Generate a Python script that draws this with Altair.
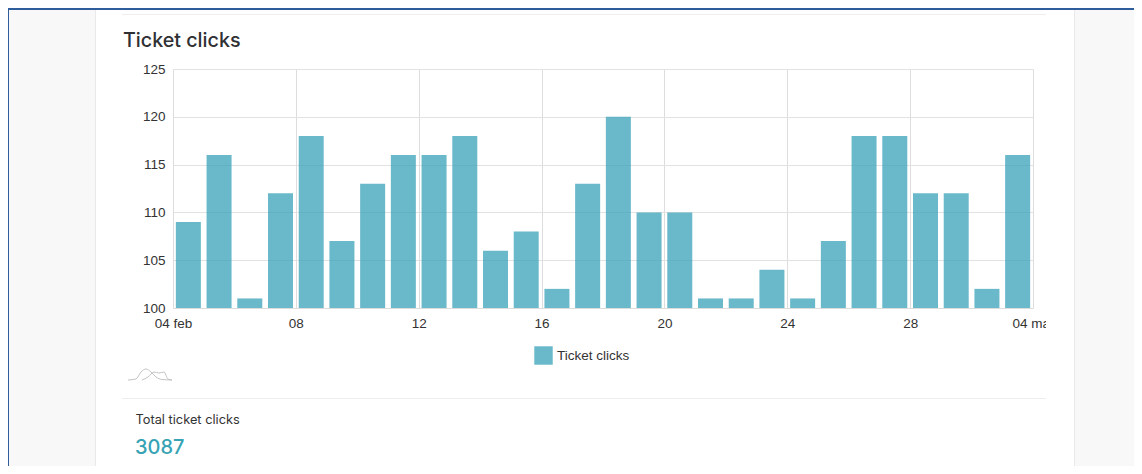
import altair as alt
import pandas as pd

days = pd.date_range("2023-02-04 12:00", periods=28, freq="D").strftime("%Y-%m-%dT%H:%M:%S").tolist()
clicks = [109, 116, 101, 112, 118, 107, 113, 116, 116, 118, 106, 108, 102, 113,
          120, 110, 110, 101, 101, 104, 101, 107, 118, 118, 112, 112, 102, 116]
series_name = "Ticket clicks"
tick_dates = ["2023-02-04", "2023-02-08", "2023-02-12", "2023-02-16",
              "2023-02-20", "2023-02-24", "2023-02-28", "2023-03-04"]
spark_a_x = [0, 8, 13, 18, 23, 28, 34, 44]
spark_a_y = [0, 1, 8, 11, 8, 3, 0.5, 0]
spark_b_x = [14, 20, 26, 31, 36, 40, 44]
spark_b_y = [0, 3, 8, 7, 8, 1, 0]

OX, OY = 173, 69  # page position of the plot's corner
W, H = 860, 239


def px(x):
    return alt.value(x - OX)


def py(y):
    return alt.value(y - OY)


def rect(x0, x1, y0, y1, color):
    return alt.Chart(pd.DataFrame({"a": [0]})).mark_rect(color=color).encode(
        x=px(x0), x2=px(x1), y=py(y0), y2=py(y1))


def label(text, x, y, size, color, weight=400):
    return alt.Chart(pd.DataFrame({"t": [text]})).mark_text(
        align="left", baseline="alphabetic", font="Inter", fontSize=size,
        fontWeight=weight, color=color).encode(x=px(x), y=py(y), text="t:N")


bars = alt.Chart(pd.DataFrame({"day": days, "clicks": clicks, "s": series_name})).mark_bar(
    size=25, opacity=0.75
).encode(
    x=alt.X("day:T", scale=alt.Scale(domain=[tick_dates[0] + "T00:00:00", tick_dates[-1] + "T00:00:00"], padding=0),
            axis=alt.Axis(values=[d + "T00:00:00" for d in tick_dates], title=None, ticks=False,
                          domainColor="#dddddd", gridColor="#dddddd", labelColor="#333333",
                          labelFont="Liberation Sans", labelFontSize=13.5, labelPadding=8,
                          labelFlush=False, labelOverlap=False,
                          labelExpr="date(datum.value)==4 ? (month(datum.value)==1 ? '04 feb' : '04 mar') : timeFormat(datum.value,'%d')")),
    y=alt.Y("clicks:Q", scale=alt.Scale(domain=[100, 125], zero=False, nice=False),
            axis=alt.Axis(values=[100, 105, 110, 115, 120, 125], title=None, ticks=False,
                          domainColor="#dddddd", gridColor="#e2e2e2", labelColor="#333333",
                          labelFont="Liberation Sans", labelFontSize=13.5, labelPadding=8)),
    y2=alt.Y2(datum=100),
    color=alt.Color("s:N", scale=alt.Scale(domain=[series_name], range=["#37a2b8"]),
                    legend=alt.Legend(title=None, orient="none", legendX=534 - OX, legendY=346 - OY,
                                      symbolType="square", symbolSize=340, symbolStrokeWidth=0,
                                      symbolOpacity=0.75,
                                      labelFont="Liberation Sans", labelFontSize=13.5, labelColor="#333333",
                                      labelOffset=4)),
)


def spark(xs, ys):
    return alt.Chart(pd.DataFrame({"x": xs, "y": ys})).mark_line(
        color="#c4c4c4", strokeWidth=1, interpolate="monotone"
    ).encode(
        x=alt.X("x:Q", axis=None, scale=alt.Scale(domain=[0, 44], range=[128 - OX, 172 - OX])),
        y=alt.Y("y:Q", axis=None, scale=alt.Scale(domain=[0, 11], range=[380 - OY, 369 - OY])),
    )


layers = [
    rect(8, 95, 8, 466, "#f8f8f9"),
    rect(95, 96, 8, 466, "#e9e9ea"),
    rect(1074, 1075, 8, 466, "#e9e9ea"),
    rect(1075, 1134, 8, 466, "#f8f8f9"),
    rect(8, 1134, 8, 10, "#2f5d9b"),
    rect(8, 9, 8, 466, "#2f5d9b"),
    rect(122, 1046, 14, 15, "#eeeeee"),
    rect(122, 1046, 398, 399, "#eeeeee"),
    rect(1046, 1074, 312, 334, "#ffffff"),
    bars,
    spark(spark_a_x, spark_a_y),
    spark(spark_b_x, spark_b_y),
    label("Ticket clicks", 123, 47, 19.7, "#2f3033", 500),
    label("Total ticket clicks", 135.5, 424, 12.8, "#333333", 400),
    label("3087", 135, 454, 20, "#37a3b5", 500),
]

chart = alt.layer(*layers).resolve_scale(x="independent", y="independent").properties(
    width=W, height=H,
    padding={"left": OX - 8, "top": OY - 8, "right": 1134 - OX - W, "bottom": 466 - OY - H},
    autosize=alt.AutoSizeParams(type="none"),
).configure_view(stroke=None)

chart.save("out.html", embed_options={"renderer": "svg", "actions": False})
